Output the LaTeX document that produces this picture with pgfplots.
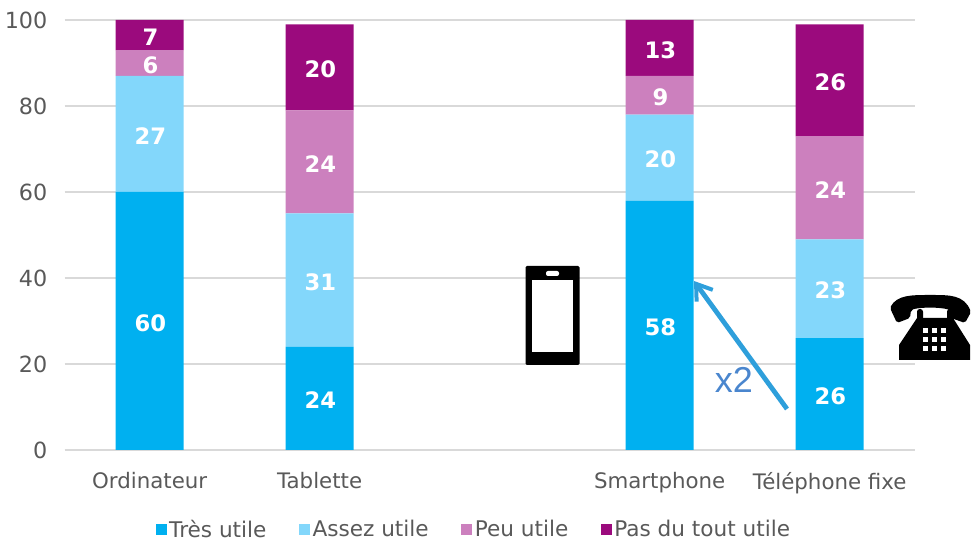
\documentclass[border=0pt]{standalone}
\usepackage{pgfplots}
\pgfplotsset{compat=1.18}
\usepackage{pgfplotstable}
\usetikzlibrary{arrows.meta}
\usepackage{fontspec}
\setmainfont{DejaVu Sans}
\newfontfamily\arialf{Liberation Sans}
\definecolor{c1}{HTML}{00B0F0}
\definecolor{c2}{HTML}{83D7FB}
\definecolor{c3}{HTML}{CC80BE}
\definecolor{c4}{HTML}{9B0A7D}
\definecolor{gridc}{HTML}{D9D9D9}
\definecolor{txt}{HTML}{595959}
\definecolor{arrowc}{HTML}{2E9FDB}
\definecolor{xtwo}{HTML}{4A86CE}
\pgfplotstableread{
x  a  b  c  d
0  60 27 6  7
1  24 31 24 20
3  58 20 9  13
4  26 23 24 26
}\data
\pgfplotstableread{
x y lab
0 30 60
0 73.5 27
0 90 6
0 96.5 7
1 12 24
1 39.5 31
1 67 24
1 89 20
3 29 58
3 68 20
3 82.5 9
3 93.5 13
4 13 26
4 37.5 23
4 61 24
4 86 26
}\labels
\begin{document}
\begin{tikzpicture}[x=0.75pt,y=0.75pt]
\useasboundingbox (0,0) rectangle (971,542);
\begin{axis}[
  at={(48.5pt,69pt)},anchor=south west,
  scale only axis,width=637.5pt,height=322.5pt,
  ybar stacked,bar width=51pt,
  xmin=-0.5,xmax=4.5,ymin=0,ymax=100,
  xtick={0,1,3,4},xticklabels={Ordinateur,Tablette,Smartphone,Téléphone fixe},
  ytick={0,20,...,100},
  ymajorgrids,major grid style={gridc,line width=1.1pt},
  axis x line*=bottom,axis y line*=left,
  x axis line style={gridc,line width=1.1pt,-},
  y axis line style={draw=none},
  tick style={draw=none},
  /pgf/number format/assume math mode=true,
  tick label style={text=txt,font=\fontsize{16}{18}\selectfont},
  xticklabel style={yshift=-13pt},
  yticklabel style={xshift=-9.5pt,font=\fontsize{16.7}{18}\selectfont},
  clip=false,
  legend style={draw=none,fill=none,at={(0.482,-0.156)},anchor=north,legend columns=4,
    font=\fontsize{16.2}{18}\selectfont,text=txt,
    /tikz/every even column/.append style={column sep=22.5pt},
    inner sep=0pt},
  legend image code/.code={\fill[#1] (0pt,-4pt) rectangle (8pt,4pt);},
]
\addplot[fill=c1,draw=none] table[x=x,y=a] {\data};
\addplot[fill=c2,draw=none] table[x=x,y=b] {\data};
\addplot[fill=c3,draw=none] table[x=x,y=c] {\data};
\addplot[fill=c4,draw=none] table[x=x,y=d] {\data};
\legend{Très utile,Assez utile,Peu utile,Pas du tout utile}
\end{axis}
\begin{axis}[
  at={(48.5pt,69pt)},anchor=south west,
  scale only axis,width=637.5pt,height=322.5pt,
  xmin=-0.5,xmax=4.5,ymin=0,ymax=100,
  hide axis,clip=false,
]
\addplot[only marks,mark=none,nodes near coords,point meta=explicit symbolic,
  nodes near coords style={anchor=center,xshift=0.6pt,yshift=-1.5pt,text=white,font=\bfseries\fontsize{17}{19}\selectfont}]
  table[x=x,y=y,meta=lab] {\labels};
\end{axis}
% arrow and annotation
\draw[arrowc,line width=3.6pt,-{Straight Barb[length=11pt,width=15pt,line width=3pt]}] (787,133) -- (694,261);
\node[text=xtwo,font=\arialf\fontsize{27}{29}\selectfont] at (734,162) {x2};
% smartphone icon
\fill[black,rounded corners=1pt] (525.5,177) rectangle (579.5,276);
\fill[white] (532,190) rectangle (573,262);
\fill[white,rounded corners=1.5pt] (546,266) rectangle (559,271);
% telephone icon
\fill[black,rounded corners=1.5pt] (890,234) .. controls (897,247) and (912,247) .. (930,247)
  .. controls (950,247) and (964,247) .. (971,230) -- (965,219) -- (951,224) -- (950,232)
  .. controls (940,235) and (920,235) .. (911,232) -- (910,224) -- (897,219) -- cycle;
\fill[black,rounded corners=2pt] (917,220) rectangle (923,233);
\fill[black,rounded corners=2pt] (947,220) rectangle (953,233);
\fill[black] (917,224) -- (953,224) -- (970,197) -- (970,182) -- (899,182) -- (899,197) -- cycle;
\foreach \i in {0,1,2}{\foreach \j in {0,1,2}{
  \fill[white] (923+9.2*\i,191+9.2*\j) rectangle ++(4.7,4.7);}}
\end{tikzpicture}
\end{document}
